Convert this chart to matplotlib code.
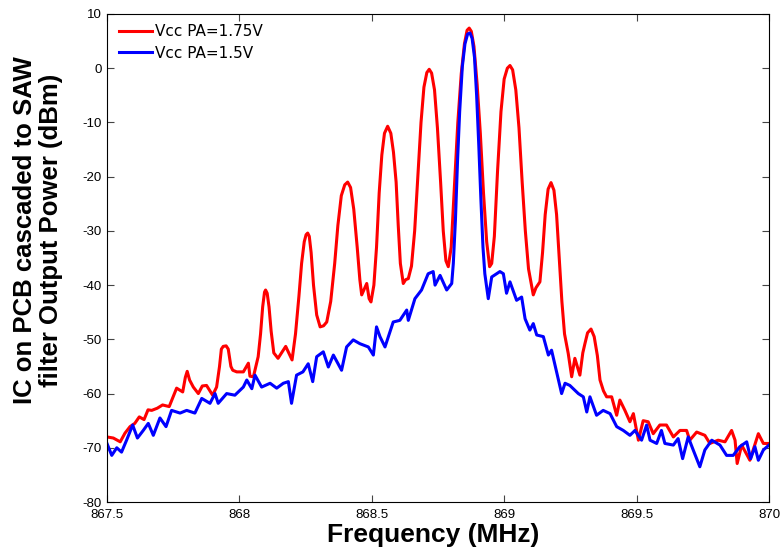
import matplotlib
matplotlib.use("Agg")
import matplotlib.pyplot as plt

# Spectrum (frequency in MHz, power in dBm)
red_freq = [
    867.500, 867.524, 867.550, 867.568, 867.587, 867.605, 867.622, 867.640,
    867.655, 867.669, 867.690, 867.710, 867.735, 867.763, 867.786, 867.796,
    867.803, 867.812, 867.826, 867.845, 867.860, 867.876, 867.899, 867.914,
    867.925, 867.932, 867.939, 867.950, 867.958, 867.968, 867.975, 867.990,
    868.015, 868.034, 868.040, 868.053, 868.071, 868.080, 868.088, 868.095,
    868.099, 868.105, 868.112, 868.120, 868.130, 868.146, 868.175, 868.199,
    868.212, 868.225, 868.235, 868.245, 868.252, 868.258, 868.264, 868.271,
    868.280, 868.292, 868.305, 868.318, 868.330, 868.345, 868.360, 868.372,
    868.385, 868.398, 868.409, 868.420, 868.432, 868.445, 868.455, 868.462,
    868.481, 868.490, 868.497, 868.508, 868.518, 868.528, 868.538, 868.548,
    868.560, 868.572, 868.582, 868.592, 868.600, 868.608, 868.619, 868.628,
    868.638, 868.650, 868.662, 868.674, 868.686, 868.697, 868.708, 868.717,
    868.726, 868.737, 868.748, 868.760, 868.770, 868.780, 868.789, 868.800,
    868.812, 868.825, 868.838, 868.850, 868.860, 868.868, 868.876, 868.886,
    868.898, 868.910, 868.922, 868.934, 868.945, 868.953, 868.963, 868.975,
    868.988, 869.000, 869.012, 869.022, 869.032, 869.044, 869.056, 869.068,
    869.080, 869.092, 869.110, 869.120, 869.135, 869.145, 869.155, 869.166,
    869.177, 869.188, 869.198, 869.208, 869.218, 869.228, 869.242, 869.255,
    869.267, 869.286, 869.297, 869.305, 869.315, 869.328, 869.340, 869.352,
    869.362, 869.375, 869.387, 869.406, 869.425, 869.437, 869.456, 869.475,
    869.488, 869.507, 869.525, 869.544, 869.563, 869.588, 869.613, 869.639,
    869.664, 869.689, 869.701, 869.727, 869.758, 869.777, 869.808, 869.834,
    869.859, 869.872, 869.880, 869.897, 869.928, 869.960, 869.979, 870.000,
]
red_db = [
    -68.0, -68.2, -68.9, -67.3, -66.1, -65.5, -64.3, -64.8,
    -63.0, -63.1, -62.7, -62.1, -62.4, -59.0, -59.7, -57.0,
    -55.9, -57.5, -58.8, -60.0, -58.6, -58.5, -60.3, -58.8,
    -55.0, -51.8, -51.3, -51.2, -51.8, -55.0, -55.7, -56.0,
    -56.0, -54.4, -56.8, -56.9, -53.2, -49.0, -44.0, -41.3,
    -40.9, -41.5, -44.0, -48.5, -52.5, -53.5, -51.3, -53.8,
    -49.0, -42.0, -36.0, -32.0, -30.7, -30.4, -31.0, -34.0,
    -40.0, -45.5, -47.7, -47.5, -46.8, -43.0, -36.0, -29.0,
    -23.5, -21.5, -21.0, -22.0, -26.0, -33.0, -39.0, -41.8,
    -39.7, -42.5, -43.1, -40.0, -33.0, -23.0, -16.0, -12.0,
    -10.7, -12.0, -15.5, -21.0, -29.0, -36.0, -39.7, -39.0,
    -38.8, -36.5, -30.0, -20.0, -10.0, -3.5, -0.8, -0.2,
    -0.9, -4.0, -11.0, -21.0, -30.0, -35.5, -36.6, -33.0,
    -22.0, -10.0, -1.0, 4.5, 7.0, 7.4, 6.8, 4.0,
    -3.0, -12.0, -23.0, -32.0, -36.6, -36.0, -31.0, -19.0,
    -8.0, -2.0, 0.0, 0.5, -0.3, -4.0, -11.0, -21.0,
    -30.0, -37.0, -41.8, -40.5, -39.4, -34.0, -27.0, -22.3,
    -21.1, -22.5, -27.0, -35.0, -43.0, -49.0, -52.6, -56.9,
    -53.5, -56.6, -52.5, -50.8, -48.8, -48.1, -49.5, -53.0,
    -57.5, -59.5, -60.6, -60.6, -64.0, -61.2, -63.1, -65.2,
    -63.7, -68.6, -65.0, -65.2, -67.4, -65.8, -65.8, -68.0,
    -66.8, -66.8, -68.6, -67.1, -67.7, -69.2, -68.6, -68.9,
    -66.8, -68.6, -72.9, -69.5, -72.3, -67.4, -69.2, -69.2,
]

blue_freq = [
    867.500, 867.518, 867.537, 867.555, 867.574, 867.597, 867.615, 867.637,
    867.656, 867.675, 867.700, 867.723, 867.744, 867.776, 867.801, 867.832,
    867.858, 867.889, 867.908, 867.920, 867.952, 867.983, 868.015, 868.028,
    868.047, 868.059, 868.084, 868.116, 868.141, 868.166, 868.185, 868.197,
    868.216, 868.240, 868.260, 868.277, 868.292, 868.317, 868.336, 868.355,
    868.386, 868.405, 868.430, 868.455, 868.487, 868.506, 868.518, 868.531,
    868.550, 868.581, 868.606, 868.632, 868.638, 868.663, 868.688, 868.713,
    868.732, 868.739, 868.758, 868.783, 868.802, 868.808, 868.816, 868.824,
    868.832, 868.842, 868.852, 868.862, 868.871, 868.879, 868.888, 868.896,
    868.904, 868.912, 868.920, 868.927, 868.940, 868.953, 868.984, 868.997,
    869.009, 869.022, 869.047, 869.066, 869.079, 869.097, 869.110, 869.123,
    869.148, 869.167, 869.179, 869.198, 869.217, 869.230, 869.248, 869.280,
    869.299, 869.312, 869.324, 869.349, 869.374, 869.400, 869.425, 869.450,
    869.475, 869.494, 869.519, 869.538, 869.551, 869.576, 869.594, 869.607,
    869.639, 869.657, 869.674, 869.695, 869.714, 869.739, 869.758, 869.784,
    869.815, 869.840, 869.865, 869.890, 869.916, 869.931, 869.947, 869.960,
    869.979, 870.000,
]
blue_db = [
    -69.2, -71.4, -70.0, -70.8, -68.6, -65.8, -68.2, -66.8,
    -65.5, -67.7, -64.5, -66.1, -63.1, -63.6, -63.1, -63.6,
    -60.9, -61.8, -60.0, -61.8, -60.0, -60.3, -58.8, -57.5,
    -59.1, -56.6, -58.8, -58.1, -59.0, -58.1, -57.8, -61.8,
    -56.6, -56.0, -54.5, -57.8, -53.2, -52.3, -55.1, -52.9,
    -55.7, -51.4, -50.1, -50.8, -51.4, -52.9, -47.7, -49.5,
    -51.4, -46.8, -46.5, -44.6, -46.5, -42.5, -40.9, -37.9,
    -37.5, -40.0, -38.2, -40.9, -39.7, -36.0, -28.0, -17.0,
    -8.0, 0.3, 4.5, 6.3, 6.5, 5.5, 2.0, -5.0,
    -14.0, -24.0, -33.0, -37.9, -42.5, -38.5, -37.5, -37.9,
    -41.5, -39.4, -42.8, -42.2, -46.2, -48.3, -47.1, -49.2,
    -49.5, -52.9, -52.0, -56.0, -60.0, -58.1, -58.5, -60.0,
    -60.6, -63.4, -60.6, -64.0, -63.1, -63.7, -66.1, -66.8,
    -67.7, -66.8, -68.6, -65.8, -68.6, -69.2, -66.8, -69.2,
    -69.5, -68.3, -72.0, -68.0, -70.4, -73.5, -70.4, -68.6,
    -69.5, -71.4, -71.4, -69.8, -68.9, -72.0, -69.8, -72.3,
    -70.4, -69.5,
]

x_ticks = [867.5, 868, 868.5, 869, 869.5, 870]
x_tick_labels = ["867.5", "868", "868.5", "869", "869.5", "870"]
y_ticks = [-80, -70, -60, -50, -40, -30, -20, -10, 0, 10]

plt.rcParams["font.family"] = ["Liberation Sans", "DejaVu Sans"]
plt.rcParams["axes.unicode_minus"] = False

fig = plt.figure(figsize=(7.82, 5.51), dpi=100)
ax = fig.add_axes([0.1368, 0.0889, 0.8465, 0.8857])

ax.plot(red_freq, red_db, color="#ff0000", lw=2.2, label="Vcc PA=1.75V")
ax.plot(blue_freq, blue_db, color="#0000ff", lw=2.2, label="Vcc PA=1.5V")

ax.set_xlim(867.5, 870)
ax.set_ylim(-80, 10)
ax.set_xticks(x_ticks)
ax.set_xticklabels(x_tick_labels)
ax.set_yticks(y_ticks)
ax.tick_params(direction="in", top=True, right=True, labelsize=9.5,
               length=5, color="#444444")
ax.tick_params(axis="x", pad=5)
ax.tick_params(axis="y", pad=4)

ax.set_xlabel("Frequency (MHz)", fontsize=19, fontweight="bold")
ax.xaxis.set_label_coords(0.4925, -0.042)
ax.set_ylabel("IC on PCB cascaded to SAW\nfilter Output Power (dBm)",
              fontsize=18.5, fontweight="bold", linespacing=1.1)
ax.yaxis.set_label_coords(-0.066, 0.557)

ax.legend(loc="upper left", bbox_to_anchor=(0.018, 0.979), frameon=False,
          prop={"family": "DejaVu Sans", "size": 11}, handlelength=2.15,
          handletextpad=0.2, borderpad=0, borderaxespad=0, labelspacing=0.42)

fig.savefig("out.png", dpi=100)
